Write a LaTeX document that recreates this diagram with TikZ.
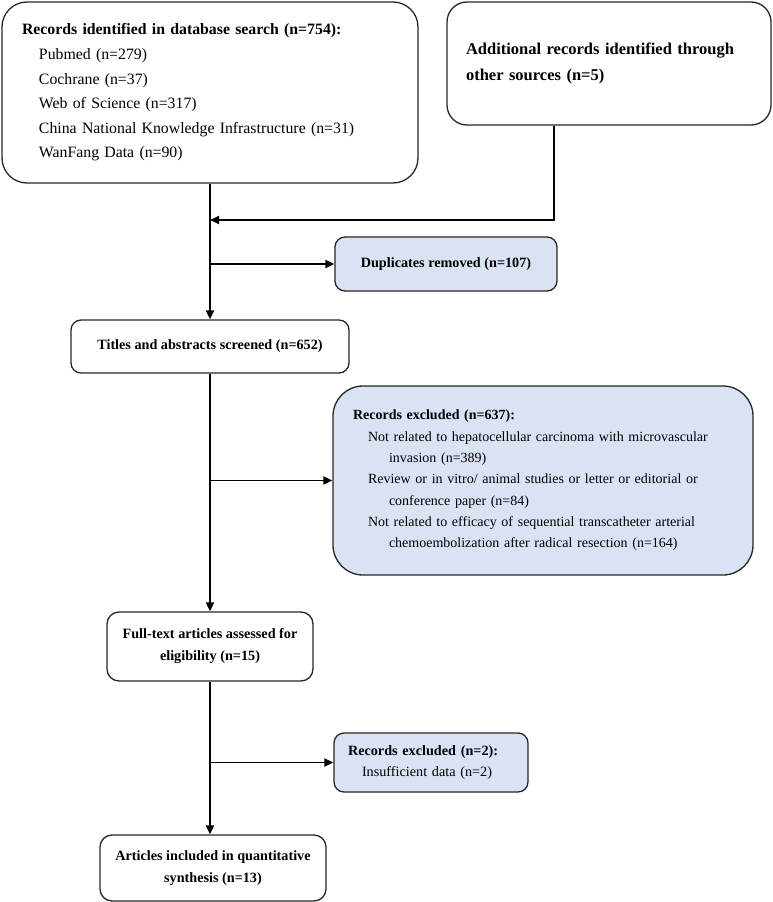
\documentclass[tikz,border=0pt]{standalone}
\usepackage{fontspec}
\setmainfont{Liberation Serif}
\usetikzlibrary{arrows.meta,calc}
\definecolor{boxblue}{HTML}{DAE3F3}
\definecolor{edgecol}{HTML}{262626}
\begin{document}
\begin{tikzpicture}[x=1pt,y=-1pt,
  box/.style={draw=edgecol,line width=1.3pt,inner sep=0pt,anchor=center},
  bluebox/.style={box,fill=boxblue},
  bigfont/.style={font=\fontsize{15.8}{24.6}\selectfont},
  smallfont/.style={font=\fontsize{14.2}{21.3}\selectfont},
  arr/.style={line width=1.9pt,-{Triangle[length=9pt,width=8pt]}}]
\useasboundingbox (0,0) rectangle (772,902);

\node[box,bigfont,rounded corners=25pt,minimum width=416pt,minimum height=181pt,
      text width=376pt,align=left] (db) at (210,92.5)
 {\textbf{Records identified in database search (n=754):}\\
  \hspace*{17pt}Pubmed (n=279)\\
  \hspace*{17pt}Cochrane (n=37)\\
  \hspace*{17pt}Web of Science (n=317)\\
  \hspace*{17pt}China National Knowledge Infrastructure (n=31)\\
  \hspace*{17pt}WanFang Data (n=90)};

\node[box,font=\fontsize{16.5}{26}\selectfont,rounded corners=20pt,minimum width=324pt,minimum height=123pt,
      text width=286pt,align=left] (add) at (609,63.5)
 {\textbf{Additional records identified through}\\
  \textbf{other sources (n=5)}};

\node[bluebox,smallfont,rounded corners=10pt,minimum width=222pt,minimum height=54pt,align=center]
  (dup) at (446,264) {\textbf{Duplicates removed (n=107)}};

\node[box,smallfont,rounded corners=10pt,minimum width=278pt,minimum height=53pt,align=center]
  (titles) at (210,346.5) {\textbf{Titles and abstracts screened (n=652)}};

\node[bluebox,font=\fontsize{14}{21.3}\selectfont,rounded corners=30pt,minimum width=420pt,minimum height=189pt,
      text width=380pt,align=left] (ex1) at (543,480.5)
 {\textbf{Records excluded (n=637):}\\
  \hspace*{15pt}Not related to hepatocellular carcinoma with microvascular\\
  \hspace*{36pt}invasion (n=389)\\
  \hspace*{15pt}Review or in vitro/ animal studies or letter or editorial or\\
  \hspace*{36pt}conference paper (n=84)\\
  \hspace*{15pt}Not related to efficacy of sequential transcatheter arterial\\
  \hspace*{36pt}chemoembolization after radical resection (n=164)};

\node[box,font=\fontsize{14.2}{22}\selectfont,rounded corners=12pt,minimum width=206pt,minimum height=69pt,align=center]
  (full) at (210,646.5) {\textbf{Full-text articles assessed for}\\ \textbf{eligibility (n=15)}};

\node[bluebox,smallfont,rounded corners=10pt,minimum width=194pt,minimum height=59pt,
      text width=166pt,align=left] (ex2) at (431,762.5)
 {\textbf{Records excluded (n=2):}\\ \hspace*{14pt}Insufficient data (n=2)};

\node[box,smallfont,rounded corners=12pt,minimum width=226pt,minimum height=66pt,align=center]
  (art) at (213,868) {\textbf{Articles included in quantitative}\\ \textbf{synthesis (n=13)}};

\coordinate (j1) at (210,220);
\coordinate (k1) at (554,220);

\draw[arr] (db.south) -- (titles.north);
\draw[arr] (k1 |- add.south) -- (k1) -- (j1);
\draw[arr] (titles.north |- dup.west) -- (dup.west);
\draw[arr] (titles.south) -- (full.north);
\draw[arr] (titles.south |- ex1.west) -- (ex1.west);
\draw[arr] (full.south) -- (full.south |- art.north);
\draw[arr] (full.south |- ex2.west) -- (ex2.west);
\end{tikzpicture}
\end{document}
